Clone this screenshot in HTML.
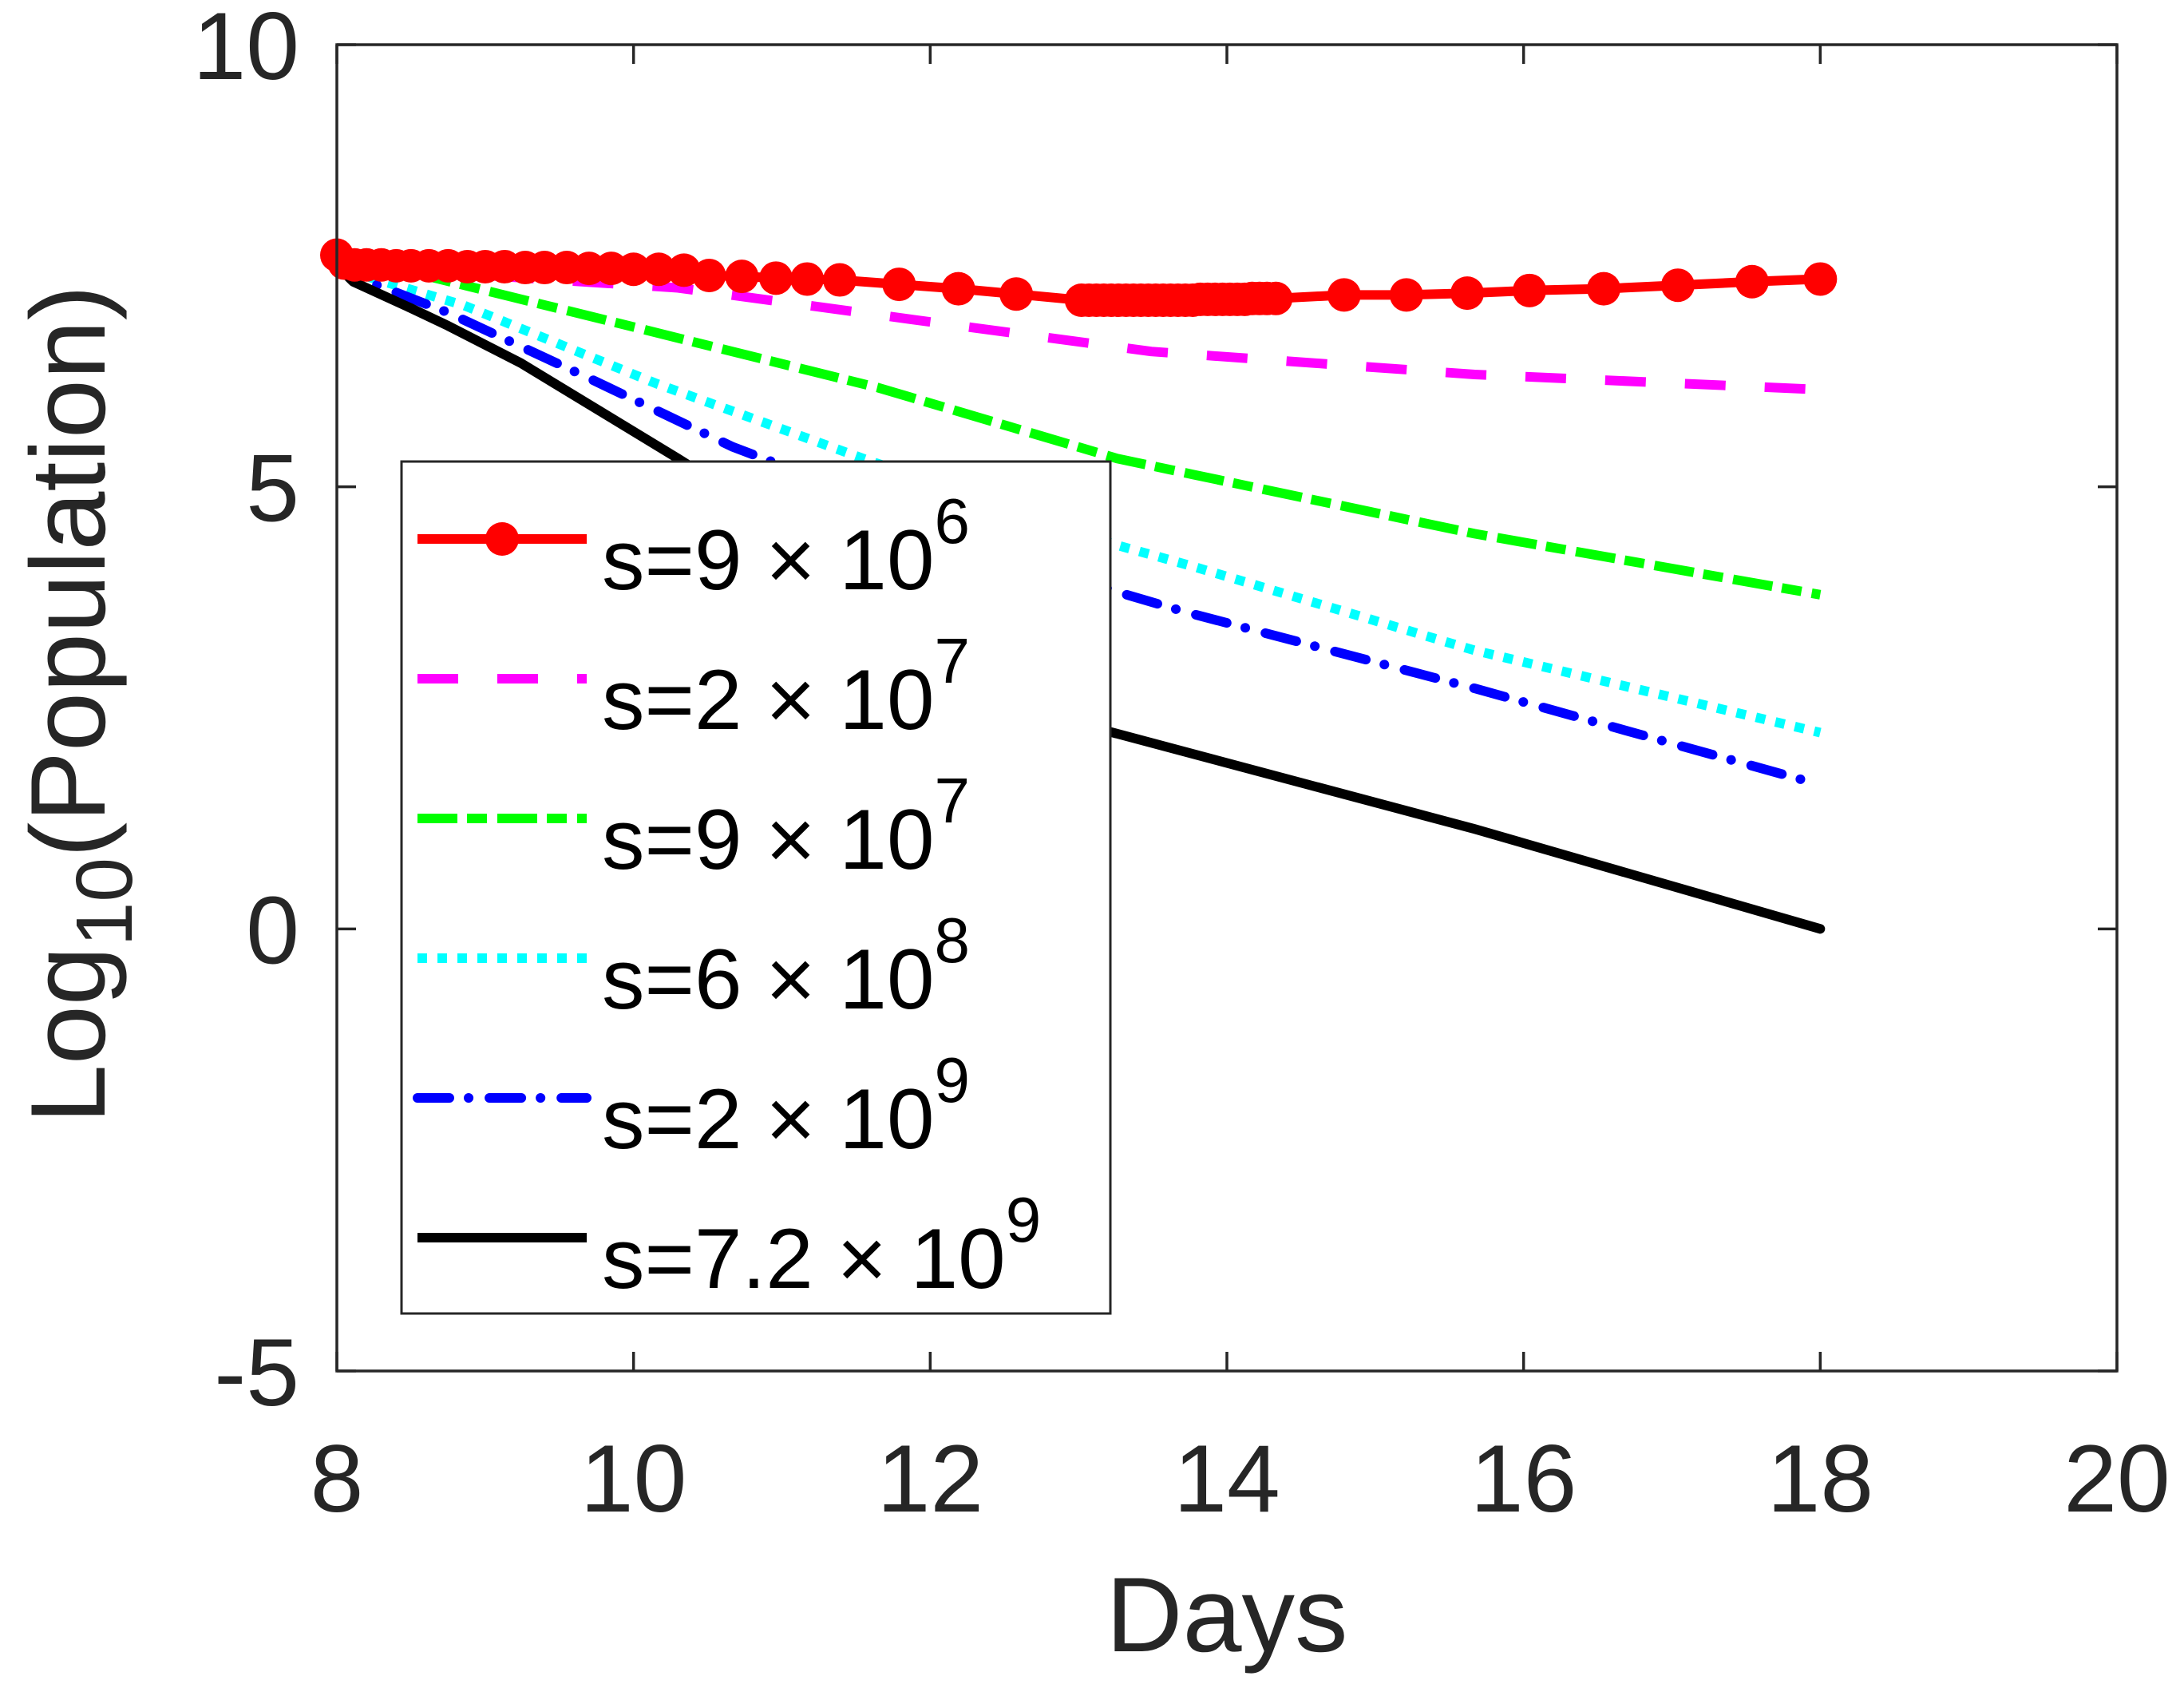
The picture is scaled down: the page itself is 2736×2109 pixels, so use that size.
<!DOCTYPE html>
<html><head><meta charset="utf-8"><style>
html,body{margin:0;padding:0;background:#fff;}
svg{display:block;font-family:"Liberation Sans",Arial,sans-serif;}
</style></head><body>
<svg id="chart" width="2736" height="2109" viewBox="0 0 2736 2109" xmlns="http://www.w3.org/2000/svg">
<rect width="2736" height="2109" fill="#fff"/>
<g id="plot"></g>
<g id="axes"></g>
<g id="legend"></g>
</svg>
<script>
const xTicks=[8,10,12,14,16,18,20];
const yTicks=[10,5,0,-5];
const xTickLabels=["8","10","12","14","16","18","20"];
const yTickLabels=["10","5","0","-5"];
const redDays=[8,8.05,8.12,8.2,8.3,8.4,8.5,8.62,8.75,8.88,9.0,9.13,9.27,9.4,9.55,9.7,9.85,10.0,10.17,10.34,10.51,10.73,10.96,11.17,11.39,11.79,12.19,12.58,13.02,13.07,13.12,13.17,13.22,13.27,13.32,13.37,13.42,13.47,13.52,13.57,13.62,13.67,13.72,13.77,13.82,13.87,13.92,13.97,14.02,14.07,14.12,14.17,14.22,14.27,14.33,14.79,15.21,15.62,16.04,16.54,17.04,17.54,18.0];
const redVals=[7.62,7.53,7.51,7.51,7.51,7.5,7.5,7.5,7.5,7.49,7.49,7.49,7.48,7.48,7.48,7.47,7.47,7.46,7.46,7.45,7.39,7.38,7.36,7.35,7.34,7.29,7.24,7.18,7.11,7.11,7.11,7.11,7.11,7.11,7.11,7.11,7.11,7.11,7.11,7.11,7.11,7.11,7.11,7.11,7.12,7.12,7.12,7.12,7.12,7.12,7.12,7.13,7.13,7.13,7.13,7.17,7.17,7.19,7.22,7.24,7.28,7.32,7.35];
const magDays=[8,8.05,8.12,8.64,10.3,11.89,13.49,15.67,18];
const magVals=[7.6,7.52,7.5,7.43,7.25,6.89,6.53,6.27,6.10];
const grnDays=[8,8.05,8.12,8.52,9.85,11.65,13.26,13.77,15.67,18];
const grnVals=[7.6,7.5,7.47,7.42,6.87,6.12,5.32,5.14,4.47,3.78];
const cyaDays=[8,8.05,8.12,8.86,10.15,11.58,13.26,13.77,15.67,18];
const cyaVals=[7.6,7.47,7.42,7.05,6.17,5.30,4.34,4.10,3.15,2.22];
const bluDays=[8,8.05,8.12,8.75,9.71,10.67,13.26,13.73,15.67,18];
const bluVals=[7.6,7.45,7.38,6.97,6.22,5.45,3.81,3.58,2.72,1.63];
const blkDays=[8,8.05,8.11,8.5,8.75,9.24,9.77,10.30,13.21,15.67,18];
const blkVals=[7.6,7.42,7.32,7.02,6.82,6.40,5.86,5.32,2.23,1.13,0.0];
const legendLabels=["s=9 \u00d7 10","s=2 \u00d7 10","s=9 \u00d7 10","s=6 \u00d7 10","s=2 \u00d7 10","s=7.2 \u00d7 10"];
const legendExps=["6","7","7","8","9","9"];

const NS="http://www.w3.org/2000/svg";
const L=422,R=2652,T=56,B=1717;
const xMin=8,xMax=20,yMin=-5,yMax=10;
function sx(v){return L+(v-xMin)/(xMax-xMin)*(R-L);}
function sy(v){return B-(v-yMin)/(yMax-yMin)*(B-T);}
function mk(tag,attrs,parent){const e=document.createElementNS(NS,tag);for(const k in attrs)e.setAttribute(k,attrs[k]);parent.appendChild(e);return e;}
const plot=document.getElementById('plot'),axes=document.getElementById('axes'),leg=document.getElementById('legend');
const ink="#262626";

const seriesDefs=[
 {name:'series-s9e6',d:redDays,v:redVals,c:'#ff0000',dash:'',cap:'round'},
 {name:'series-s2e7',d:magDays,v:magVals,c:'#ff00ff',dash:'51 49',cap:'butt'},
 {name:'series-s9e7',d:grnDays,v:grnVals,c:'#00ff00',dash:'50 12 25 13',cap:'butt'},
 {name:'series-s6e8',d:cyaDays,v:cyaVals,c:'#00ffff',dash:'12 13',cap:'butt'},
 {name:'series-s2e9',d:bluDays,v:bluVals,c:'#0000ff',dash:'40 24 0.1 26',cap:'round'},
 {name:'series-s72e9',d:blkDays,v:blkVals,c:'#000000',dash:'',cap:'round'}
];
seriesDefs.forEach(s=>{
  const pts=s.d.map((d,i)=>sx(d).toFixed(1)+','+sy(s.v[i]).toFixed(1)).join(' ');
  const pl=mk('polyline',{points:pts,fill:'none',stroke:s.c,'stroke-width':12,'stroke-linejoin':'round','stroke-linecap':s.cap},plot);
  if(s.dash)pl.setAttribute('stroke-dasharray',s.dash);
  
  
});
redDays.forEach((d,i)=>{
  const c=mk('circle',{cx:sx(d),cy:sy(redVals[i]),r:21,fill:'#ff0000'},plot);
  
  
});

const box=mk('rect',{x:L,y:T,width:R-L,height:B-T,fill:'none',stroke:ink,'stroke-width':3.5},axes);


xTicks.forEach((t,i)=>{
  const x=sx(t);
  mk('line',{x1:x,y1:B,x2:x,y2:B-24,stroke:ink,'stroke-width':3.5},axes);
  mk('line',{x1:x,y1:T,x2:x,y2:T+24,stroke:ink,'stroke-width':3.5},axes);
  const tx=mk('text',{x:x,y:1893,'text-anchor':'middle','font-size':120,fill:ink},axes);
  tx.textContent=xTickLabels[i];
  
  
});
yTicks.forEach((t,i)=>{
  const y=sy(t);
  mk('line',{x1:L,y1:y,x2:L+24,y2:y,stroke:ink,'stroke-width':3.5},axes);
  mk('line',{x1:R,y1:y,x2:R-24,y2:y,stroke:ink,'stroke-width':3.5},axes);
  const tx=mk('text',{x:375,y:y+43,'text-anchor':'end','font-size':120,fill:ink},axes);
  tx.textContent=yTickLabels[i];
  
  
});
const xl=mk('text',{x:1537,y:2068,'text-anchor':'middle','font-size':133,fill:ink},axes);
xl.textContent='Days';


const yl=mk('text',{transform:'translate(131,882) rotate(-90)','text-anchor':'middle','font-size':133,fill:ink},axes);
yl.innerHTML='Log<tspan font-size="100" dy="34">10</tspan><tspan dy="-34">(Population)</tspan>';



const lb=mk('rect',{x:503,y:578,width:888,height:1067,fill:'#fff',stroke:ink,'stroke-width':3},leg);


seriesDefs.forEach((s,i)=>{
  const ry=675+i*175;
  const ln=mk('line',{x1:523,y1:ry,x2:735,y2:ry,stroke:s.c,'stroke-width':12,'stroke-linecap':'butt'},leg);
  if(s.dash)ln.setAttribute('stroke-dasharray',s.dash);
  if(s.cap==='round'&&s.dash)ln.setAttribute('stroke-linecap','round');
  
  
  if(i===0){
    const m=mk('circle',{cx:629,cy:ry,r:21,fill:'#ff0000'},leg);
    
    
  }
  const tx=mk('text',{x:754,y:ry+63,'font-size':107,fill:'#000'},leg);
  tx.textContent=legendLabels[i];
  const sp=mk('tspan',{dy:-58,'font-size':80},tx);
  sp.textContent=legendExps[i];
  
  
});
</script>
</body></html>
